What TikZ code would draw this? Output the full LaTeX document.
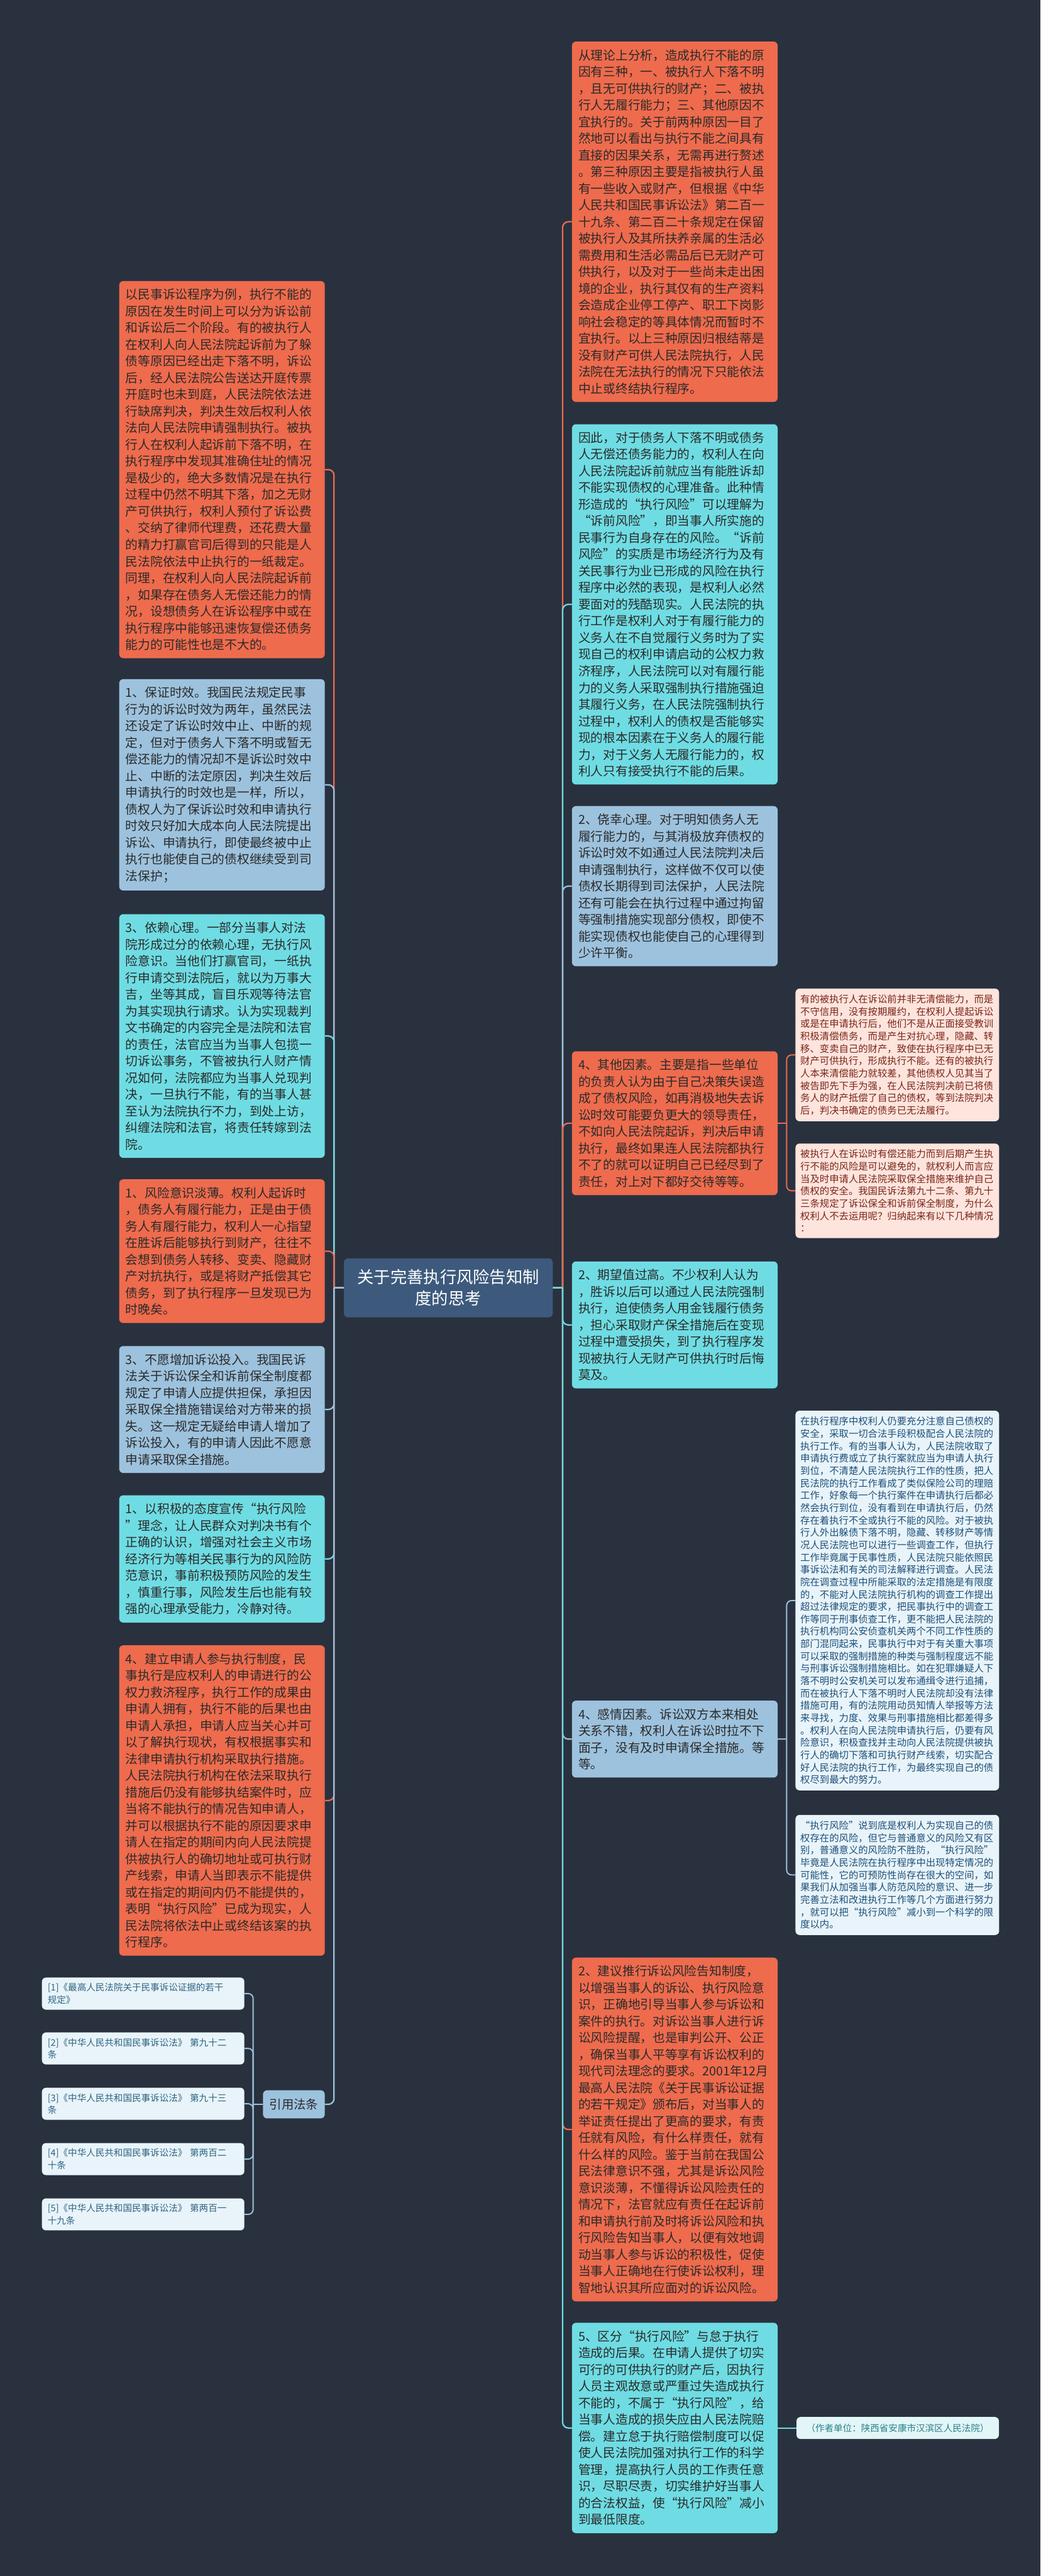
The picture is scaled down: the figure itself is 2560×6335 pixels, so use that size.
\documentclass[tikz,border=0pt]{standalone}
\usepackage{fontspec}
\newfontfamily\cjk{Noto Sans CJK SC}
\definecolor{bgc}{HTML}{29313F}
\definecolor{corange}{HTML}{EE6B4D}
\definecolor{ccyan}{HTML}{6FDCE3}
\definecolor{clblue}{HTML}{9DC2DD}
\definecolor{cpink}{HTML}{FDE4DD}
\definecolor{cpale}{HTML}{E8F4F9}
\definecolor{croot}{HTML}{3D5A7D}
\definecolor{txtdark}{HTML}{2A2A2A}
\definecolor{txtred}{HTML}{7A2416}
\definecolor{txtblue}{HTML}{1E4F7A}
\definecolor{txtref}{HTML}{2E6382}
\definecolor{txtauth}{HTML}{2A7F8B}
\definecolor{cauth}{HTML}{E3F6F7}
\pgfdeclarelayer{bg}
\pgfsetlayers{bg,main}
\tikzset{
  mainbox/.style={rounded corners=10pt, inner xsep=16pt, inner ysep=19pt, text width=474pt,
    align=left, anchor=north west, text=txtdark, font=\cjk\fontsize{30.5}{41}\selectfont},
  obox/.style={mainbox, fill=corange},
  cbox/.style={mainbox, fill=ccyan},
  lbox/.style={mainbox, fill=clblue},
  farbox/.style={rounded corners=10pt, inner xsep=12pt, inner ysep=15pt, text width=477pt,
    align=left, anchor=north west, font=\cjk\fontsize{23.75}{30.4}\selectfont},
  pinkbox/.style={farbox, fill=cpink, text=txtred},
  palebox/.style={farbox, fill=cpale, text=txtblue},
  refbox/.style={rounded corners=10pt, inner xsep=14pt, inner ysep=14pt, text width=470pt,
    align=left, anchor=north west, fill=cpale, text=txtref, font=\cjk\fontsize{22.5}{30}\selectfont},
  rootbox/.style={rounded corners=10pt, fill=croot, text=white, minimum width=514pt, minimum height=145pt,
    text width=490pt, align=center, font=\cjk\fontsize{40.7}{53}\selectfont},
  citebox/.style={rounded corners=10pt, fill=clblue, text=txtdark, minimum width=152pt, minimum height=69pt,
    font=\cjk\fontsize{30}{36}\selectfont},
  authbox/.style={rounded corners=10pt, fill=cauth, text=txtauth, minimum width=498pt, minimum height=54pt,
    anchor=west, font=\cjk\fontsize{22.5}{28}\selectfont},
  conn/.style={line width=3.5pt},
  subconn/.style={line width=3pt},
}
\begin{document}
\begin{tikzpicture}[x=1pt,y=-1pt]
\useasboundingbox (0,0) rectangle (2560,6335);
\begin{pgfonlayer}{bg}
\fill[bgc] (0,0) rectangle (2560,6335);
\end{pgfonlayer}

\node[rootbox] (root) at (1103,3167) {关于完善执行风险告知制\\度的思考};

% right column
\node[obox] (R1) at (1407,102) {从理论上分析，造成执行不能的原\\因有三种，一、被执行人下落不明\\，且无可供执行的财产；二、被执\\行人无履行能力；三、其他原因不\\宜执行的。关于前两种原因一目了\\然地可以看出与执行不能之间具有\\直接的因果关系，无需再进行赘述\\。第三种原因主要是指被执行人虽\\有一些收入或财产，但根据《中华\\人民共和国民事诉讼法》第二百一\\十九条、第二百二十条规定在保留\\被执行人及其所扶养亲属的生活必\\需费用和生活必需品后已无财产可\\供执行，以及对于一些尚未走出困\\境的企业，执行其仅有的生产资料\\会造成企业停工停产、职工下岗影\\响社会稳定的等具体情况而暂时不\\宜执行。以上三种原因归根结蒂是\\没有财产可供人民法院执行，人民\\法院在无法执行的情况下只能依法\\中止或终结执行程序。};
\node[cbox] (R2) at (1407,1043) {因此，对于债务人下落不明或债务\\人无偿还债务能力的，权利人在向\\人民法院起诉前就应当有能胜诉却\\不能实现债权的心理准备。此种情\\形造成的“执行风险”可以理解为\\“诉前风险”，即当事人所实施的\\民事行为自身存在的风险。“诉前\\风险”的实质是市场经济行为及有\\关民事行为业已形成的风险在执行\\程序中必然的表现，是权利人必然\\要面对的残酷现实。人民法院的执\\行工作是权利人对于有履行能力的\\义务人在不自觉履行义务时为了实\\现自己的权利申请启动的公权力救\\济程序，人民法院可以对有履行能\\力的义务人采取强制执行措施强迫\\其履行义务，在人民法院强制执行\\过程中，权利人的债权是否能够实\\现的根本因素在于义务人的履行能\\力，对于义务人无履行能力的，权\\利人只有接受执行不能的后果。};
\node[lbox] (R3) at (1407,1982) {2、侥幸心理。对于明知债务人无\\履行能力的，与其消极放弃债权的\\诉讼时效不如通过人民法院判决后\\申请强制执行，这样做不仅可以使\\债权长期得到司法保护，人民法院\\还有可能会在执行过程中通过拘留\\等强制措施实现部分债权，即使不\\能实现债权也能使自己的心理得到\\少许平衡。};
\node[obox] (R4) at (1407,2585) {4、其他因素。主要是指一些单位\\的负责人认为由于自己决策失误造\\成了债权风险，如再消极地失去诉\\讼时效可能要负更大的领导责任，\\不如向人民法院起诉，判决后申请\\执行，最终如果连人民法院都执行\\不了的就可以证明自己已经尽到了\\责任，对上对下都好交待等等。};
\node[cbox] (R5) at (1407,3102) {2、期望值过高。不少权利人认为\\，胜诉以后可以通过人民法院强制\\执行，迫使债务人用金钱履行债务\\，担心采取财产保全措施后在变现\\过程中遭受损失，到了执行程序发\\现被执行人无财产可供执行时后悔\\莫及。};
\node[lbox] (R6) at (1407,4182) {4、感情因素。诉讼双方本来相处\\关系不错，权利人在诉讼时拉不下\\面子，没有及时申请保全措施。等\\等。};
\node[obox] (R7) at (1407,4814) {2、建议推行诉讼风险告知制度，\\以增强当事人的诉讼、执行风险意\\识，正确地引导当事人参与诉讼和\\案件的执行。对诉讼当事人进行诉\\讼风险提醒，也是审判公开、公正\\，确保当事人平等享有诉讼权利的\\现代司法理念的要求。2001年12月\\最高人民法院《关于民事诉讼证据\\的若干规定》颁布后，对当事人的\\举证责任提出了更高的要求，有责\\任就有风险，有什么样责任，就有\\什么样的风险。鉴于当前在我国公\\民法律意识不强，尤其是诉讼风险\\意识淡薄，不懂得诉讼风险责任的\\情况下，法官就应有责任在起诉前\\和申请执行前及时将诉讼风险和执\\行风险告知当事人，以便有效地调\\动当事人参与诉讼的积极性，促使\\当事人正确地在行使诉讼权利，理\\智地认识其所应面对的诉讼风险。};
\node[cbox] (R8) at (1407,5712) {5、区分“执行风险”与怠于执行\\造成的后果。在申请人提供了切实\\可行的可供执行的财产后，因执行\\人员主观故意或严重过失造成执行\\不能的，不属于“执行风险”，给\\当事人造成的损失应由人民法院赔\\偿。建立怠于执行赔偿制度可以促\\使人民法院加强对执行工作的科学\\管理，提高执行人员的工作责任意\\识，尽职尽责，切实维护好当事人\\的合法权益，使“执行风险”减小\\到最低限度。};

% far right column
\node[pinkbox] (F1) at (1957,2431) {有的被执行人在诉讼前并非无清偿能力，而是\\不守信用，没有按期履约，在权利人提起诉讼\\或是在申请执行后，他们不是从正面接受教训\\积极清偿债务，而是产生对抗心理，隐藏、转\\移、变卖自己的财产，致使在执行程序中已无\\财产可供执行，形成执行不能。还有的被执行\\人本来清偿能力就较差，其他债权人见其当了\\被告即先下手为强，在人民法院判决前已将债\\务人的财产抵偿了自己的债权，等到法院判决\\后，判决书确定的债务已无法履行。};
\node[pinkbox] (F2) at (1957,2812) {被执行人在诉讼时有偿还能力而到后期产生执\\行不能的风险是可以避免的，就权利人而言应\\当及时申请人民法院采取保全措施来维护自己\\债权的安全。我国民诉法第九十二条、第九十\\三条规定了诉讼保全和诉前保全制度，为什么\\权利人不去运用呢？归纳起来有以下几种情况\\：};
\node[palebox] (F3) at (1957,3469) {在执行程序中权利人仍要充分注意自己债权的\\安全，采取一切合法手段积极配合人民法院的\\执行工作。有的当事人认为，人民法院收取了\\申请执行费或立了执行案就应当为申请人执行\\到位，不清楚人民法院执行工作的性质，把人\\民法院的执行工作看成了类似保险公司的理赔\\工作，好象每一个执行案件在申请执行后都必\\然会执行到位，没有看到在申请执行后，仍然\\存在着执行不全或执行不能的风险。对于被执\\行人外出躲债下落不明，隐藏、转移财产等情\\况人民法院也可以进行一些调查工作，但执行\\工作毕竟属于民事性质，人民法院只能依照民\\事诉讼法和有关的司法解释进行调查。人民法\\院在调查过程中所能采取的法定措施是有限度\\的，不能对人民法院执行机构的调查工作提出\\超过法律规定的要求，把民事执行中的调查工\\作等同于刑事侦查工作，更不能把人民法院的\\执行机构同公安侦查机关两个不同工作性质的\\部门混同起来，民事执行中对于有关重大事项\\可以采取的强制措施的种类与强制程度远不能\\与刑事诉讼强制措施相比。如在犯罪嫌疑人下\\落不明时公安机关可以发布通缉令进行追捕，\\而在被执行人下落不明时人民法院却没有法律\\措施可用，有的法院用动员知情人举报等方法\\来寻找，力度、效果与刑事措施相比都差得多\\。权利人在向人民法院申请执行后，仍要有风\\险意识，积极查找并主动向人民法院提供被执\\行人的确切下落和可执行财产线索，切实配合\\好人民法院的执行工作，为最终实现自己的债\\权尽到最大的努力。};
\node[palebox] (F4) at (1957,4463) {“执行风险”说到底是权利人为实现自己的债\\权存在的风险，但它与普通意义的风险又有区\\别，普通意义的风险防不胜防，“执行风险”\\毕竟是人民法院在执行程序中出现特定情况的\\可能性，它的可预防性尚存在很大的空间，如\\果我们从加强当事人防范风险的意识、进一步\\完善立法和改进执行工作等几个方面进行努力\\，就可以把“执行风险”减小到一个科学的限\\度以内。};

\node[authbox] (auth) at ([xshift=46pt]R8.east) {（作者单位：陕西省安康市汉滨区人民法院）};

% left column
\node[obox] (L1) at (293,691) {以民事诉讼程序为例，执行不能的\\原因在发生时间上可以分为诉讼前\\和诉讼后二个阶段。有的被执行人\\在权利人向人民法院起诉前为了躲\\债等原因已经出走下落不明，诉讼\\后，经人民法院公告送达开庭传票\\开庭时也未到庭，人民法院依法进\\行缺席判决，判决生效后权利人依\\法向人民法院申请强制执行。被执\\行人在权利人起诉前下落不明，在\\执行程序中发现其准确住址的情况\\是极少的，绝大多数情况是在执行\\过程中仍然不明其下落，加之无财\\产可供执行，权利人预付了诉讼费\\、交纳了律师代理费，还花费大量\\的精力打赢官司后得到的只能是人\\民法院依法中止执行的一纸裁定。\\同理，在权利人向人民法院起诉前\\，如果存在债务人无偿还能力的情\\况，设想债务人在诉讼程序中或在\\执行程序中能够迅速恢复偿还债务\\能力的可能性也是不大的。};
\node[lbox] (L2) at (293,1670) {1、保证时效。我国民法规定民事\\行为的诉讼时效为两年，虽然民法\\还设定了诉讼时效中止、中断的规\\定，但对于债务人下落不明或暂无\\偿还能力的情况却不是诉讼时效中\\止、中断的法定原因，判决生效后\\申请执行的时效也是一样，所以，\\债权人为了保诉讼时效和申请执行\\时效只好加大成本向人民法院提出\\诉讼、申请执行，即使最终被中止\\执行也能使自己的债权继续受到司\\法保护；};
\node[cbox] (L3) at (293,2248) {3、依赖心理。一部分当事人对法\\院形成过分的依赖心理，无执行风\\险意识。当他们打赢官司，一纸执\\行申请交到法院后，就以为万事大\\吉，坐等其成，盲目乐观等待法官\\为其实现执行请求。认为实现裁判\\文书确定的内容完全是法院和法官\\的责任，法官应当为当事人包揽一\\切诉讼事务，不管被执行人财产情\\况如何，法院都应为当事人兑现判\\决，一旦执行不能，有的当事人甚\\至认为法院执行不力，到处上访，\\纠缠法院和法官，将责任转嫁到法\\院。};
\node[obox] (L4) at (293,2900) {1、风险意识淡薄。权利人起诉时\\，债务人有履行能力，正是由于债\\务人有履行能力，权利人一心指望\\在胜诉后能够执行到财产，往往不\\会想到债务人转移、变卖、隐藏财\\产对抗执行，或是将财产抵偿其它\\债务，到了执行程序一旦发现已为\\时晚矣。};
\node[lbox] (L5) at (293,3310) {3、不愿增加诉讼投入。我国民诉\\法关于诉讼保全和诉前保全制度都\\规定了申请人应提供担保，承担因\\采取保全措施错误给对方带来的损\\失。这一规定无疑给申请人增加了\\诉讼投入，有的申请人因此不愿意\\申请采取保全措施。};
\node[cbox] (L6) at (293,3677) {1、以积极的态度宣传“执行风险\\”理念，让人民群众对判决书有个\\正确的认识，增强对社会主义市场\\经济行为等相关民事行为的风险防\\范意识，事前积极预防风险的发生\\，慎重行事，风险发生后也能有较\\强的心理承受能力，冷静对待。};
\node[obox] (L7) at (293,4046) {4、建立申请人参与执行制度，民\\事执行是应权利人的申请进行的公\\权力救济程序，执行工作的成果由\\申请人拥有，执行不能的后果也由\\申请人承担，申请人应当关心并可\\以了解执行现状，有权根据事实和\\法律申请执行机构采取执行措施。\\人民法院执行机构在依法采取执行\\措施后仍没有能够执结案件时，应\\当将不能执行的情况告知申请人，\\并可以根据执行不能的原因要求申\\请人在指定的期间内向人民法院提\\供被执行人的确切地址或可执行财\\产线索，申请人当即表示不能提供\\或在指定的期间内仍不能提供的，\\表明“执行风险”已成为现实，人\\民法院将依法中止或终结该案的执\\行程序。};
\node[citebox] (cite) at (723,5175) {引用法条};

\node[refbox] (ref1) at (103,4863) {[1]《最高人民法院关于民事诉讼证据的若干\\规定》};
\node[refbox] (ref2) at (103,4998) {[2]《中华人民共和国民事诉讼法》 第九十二\\条};
\node[refbox] (ref3) at (103,5134) {[3]《中华人民共和国民事诉讼法》 第九十三\\条};
\node[refbox] (ref4) at (103,5270) {[4]《中华人民共和国民事诉讼法》 第两百二\\十条};
\node[refbox] (ref5) at (103,5406) {[5]《中华人民共和国民事诉讼法》 第两百一\\十九条};

% junction coordinates
\coordinate (rt) at ([xshift=24pt]root.east);
\coordinate (lt) at ([xshift=-24pt]root.west);
\coordinate (st4) at ([xshift=22pt]R4.east);
\coordinate (st6) at ([xshift=22pt]R6.east);
\coordinate (rft) at ([xshift=-24pt]cite.west);

\begin{pgfonlayer}{bg}
% right side, top to bottom
\foreach \n/\c in {R1/corange,R2/ccyan,R3/clblue,R4/corange,R5/ccyan,R6/clblue,R7/corange,R8/ccyan}{
  \draw[conn,draw=\c] (root.east) -- (rt) (rt) [rounded corners=14pt] |- (\n.west);
}
% left side
\foreach \n/\c in {L1/corange,L2/clblue,L3/ccyan,L4/corange,L5/clblue,L6/ccyan,L7/corange,cite/clblue}{
  \draw[conn,draw=\c] (root.west) -- (lt) (lt) [rounded corners=14pt] |- (\n.east);
}
% sub branches
\foreach \n in {F1,F2}{
  \draw[subconn,draw=corange] (R4.east) -- (st4) (st4) [rounded corners=12pt] |- (\n.west);
}
\foreach \n in {F3,F4}{
  \draw[subconn,draw=clblue] (R6.east) -- (st6) (st6) [rounded corners=12pt] |- (\n.west);
}
\foreach \n in {ref1,ref2,ref3,ref4,ref5}{
  \draw[subconn,draw=clblue] (cite.west) -- (rft) (rft) [rounded corners=12pt] |- (\n.east);
}
\draw[subconn,draw=ccyan] (R8.east) -- (auth.west);
\end{pgfonlayer}
\end{tikzpicture}
\end{document}
